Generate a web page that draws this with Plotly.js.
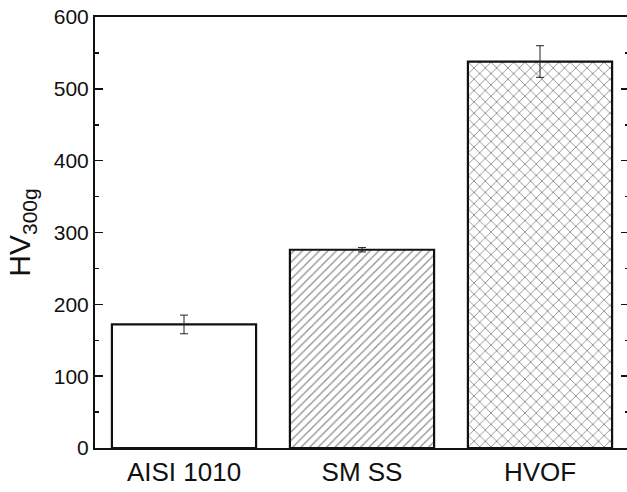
<!DOCTYPE html>
<html><head><meta charset="utf-8">
<script src="https://cdn.plot.ly/plotly-3.0.1.min.js"></script>
<style>html,body{margin:0;padding:0;overflow:hidden;background:#fff;width:627px;height:492px}</style>
</head><body><div id="chart"></div>
<script>
const categories = ["AISI 1010", "SM SS", "HVOF"];
const hardness = [172, 276, 538];
const errors = [13, 3, 22];
const patterns = ["", "/", "x"];
const patternSizes = [8, 6, 8];

const trace = {
  type: "bar",
  x: categories,
  y: hardness,
  width: 0.81,
  error_y: {type: "data", array: errors, visible: true, color: "#222", thickness: 1, width: 4},
  marker: {
    color: "#ffffff",
    line: {color: "#111", width: 2.2},
    pattern: {shape: patterns, size: patternSizes, solidity: 0.22, fgcolor: "#222", bgcolor: "#ffffff", fillmode: "overlay"}
  },
  hoverinfo: "none"
};

const layout = {
  width: 631, height: 492,
  margin: {l: 95, r: 2, t: 17, b: 44},
  paper_bgcolor: "#fff", plot_bgcolor: "#fff",
  font: {family: "Liberation Sans, Arial, sans-serif", color: "#111"},
  showlegend: false,
  xaxis: {
    range: [-0.5, 2.5],
    showline: true, linecolor: "#111", linewidth: 2, mirror: true,
    ticks: "", showgrid: false, zeroline: false,
    tickfont: {size: 26, color: "#111"}
  },
  yaxis: {
    range: [0, 600], dtick: 100, tick0: 0,
    showline: true, linecolor: "#111", linewidth: 2, mirror: "ticks",
    ticks: "inside", ticklen: 8, tickwidth: 1.5, tickcolor: "#111",
    minor: {dtick: 50, ticks: "inside", ticklen: 4, tickwidth: 1.5, tickcolor: "#111", showgrid: false},
    showgrid: false, zeroline: false,
    tickfont: {size: 21, color: "#111"},
    title: {text: "HV<sub>300g</sub>", font: {size: 30, color: "#111"}, standoff: 14}
  }
};

Plotly.newPlot("chart", [trace], layout, {displayModeBar: false, staticPlot: true});
</script></body></html>
